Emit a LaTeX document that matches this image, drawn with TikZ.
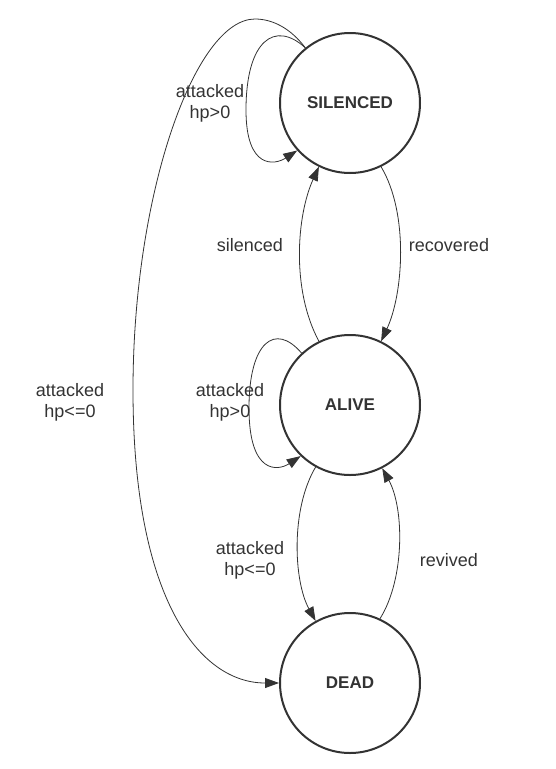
\documentclass[tikz,border=0pt]{standalone}
\usepackage{fontspec}
\setmainfont{Liberation Sans}
\usetikzlibrary{arrows.meta,calc}
\definecolor{ink}{HTML}{333333}
\tikzset{
  state/.style={circle,draw=ink,line width=2pt,minimum size=140pt,inner sep=0pt,
    font=\fontsize{17}{20}\selectfont\bfseries,text=ink},
  edge/.style={draw=ink,line width=0.8pt,-{Triangle[length=14pt,width=10pt]}},
  lbl/.style={align=center,font=\fontsize{18}{21}\selectfont,text=ink,inner sep=1pt}
}
\begin{document}
\begin{tikzpicture}[x=1pt,y=-1pt]
\useasboundingbox (0,0) rectangle (556,769);
\node[state] (S) at (350,103) {SILENCED};
\node[state] (A) at (350,405) {ALIVE};
\node[state] (D) at (350,683) {DEAD};

% self loops
\draw[edge] (S.129) .. controls ($(S)+(-75,-83)$) and ($(S)+(-104,-63)$) .. ($(S)+(-104,7)$)
  .. controls ($(S)+(-104,67)$) and ($(S)+(-75,62)$) .. (S.222);
\draw[edge] (A.133) .. controls ($(A)+(-75,-83)$) and ($(A)+(-101,-63)$) .. ($(A)+(-101,3)$)
  .. controls ($(A)+(-101,70)$) and ($(A)+(-72,66)$) .. (A.226);

% between states
\draw[edge] (A.116) .. controls +(-28,-52) and +(-22,48) .. (S.244);
\draw[edge] (S.296) .. controls +(28,47) and +(22,-47) .. (A.64);
\draw[edge] (A.241) .. controls +(-25,42) and +(-22,-40) .. (D.119);
\draw[edge] (D.65) .. controls +(25,-40) and +(22,40) .. (A.297);

% big arc
\draw[edge] (S.129) .. controls +(-15,-20) and ($(S)+(-78,-84)$) .. ($(S)+(-95,-84)$)
  .. controls ($(S)+(-155,-84)$) and ($(S)+(-217,90)$) .. ($(S)+(-217,287)$)
  .. controls ($(S)+(-217,497)$) and ($(D)+(-150,0)$) .. (D.west);

% labels
\node[lbl] (l1) at (210,103) {attacked\\hp>0};
\node[lbl] (l2) at (230,402) {attacked\\hp>0};
\node[lbl] (l3) at (70,402) {attacked\\hp<=0};
\node[lbl] (l4) at (250,560) {attacked\\hp<=0};
\node[lbl] (l5) at (250,245) {silenced};
\node[lbl] (l6) at (449,245) {recovered};
\node[lbl] (l7) at (449,560) {revived};
\end{tikzpicture}
\end{document}
